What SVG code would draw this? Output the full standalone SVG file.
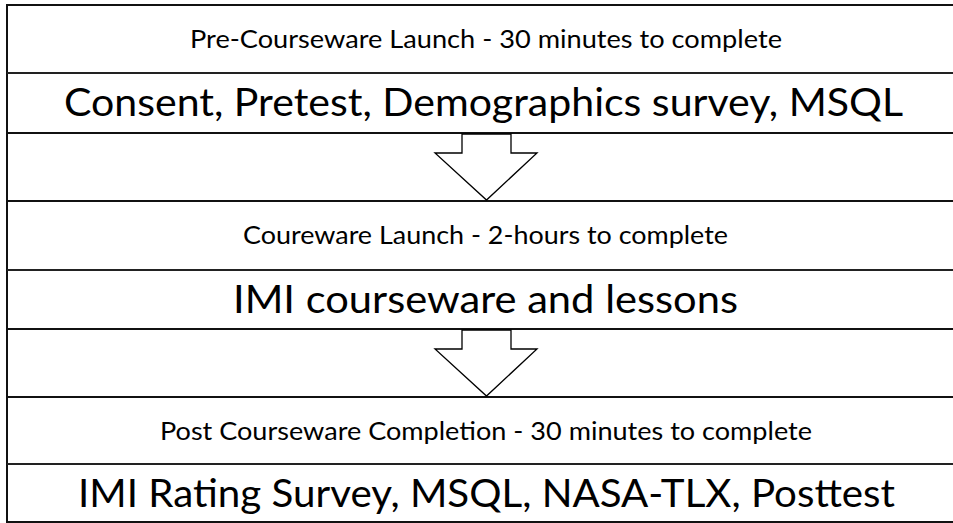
<svg xmlns="http://www.w3.org/2000/svg" width="953" height="523" viewBox="0 0 953 523">
  <style>
    .box { fill: #ffffff; stroke: #111111; stroke-width: 2; }
    .sep { stroke: #222222; stroke-width: 2; }
    .edge { stroke: #111111; stroke-width: 2; fill: none; }
    .arrow { fill: #ffffff; stroke: #000000; stroke-width: 1.3; stroke-linejoin: miter; }
    .hdr { font-family: Lato, "Liberation Sans", sans-serif; font-size: 25px; fill: #000000; }
    .big { font-family: Lato, "Liberation Sans", sans-serif; font-size: 39px; fill: #000000; }
  </style>
  <rect x="0" y="0" width="953" height="523" fill="#ffffff"/>
  <line class="edge" x1="7" y1="4" x2="7" y2="522"/>

  <g id="stage1">
    <rect class="box" x="7" y="5" width="960" height="128"/>
    <line class="sep" x1="7" y1="73" x2="960" y2="73"/>
    <text class="hdr" x="190" y="48" textLength="592" lengthAdjust="spacingAndGlyphs">Pre-Courseware Launch - 30 minutes to complete</text>
    <text class="big" x="64" y="116" textLength="839" lengthAdjust="spacingAndGlyphs">Consent, Pretest, Demographics survey, MSQL</text>
  </g>

  <g id="stage2">
    <rect class="box" x="7" y="201" width="960" height="128"/>
    <line class="sep" x1="7" y1="270" x2="960" y2="270"/>
    <text class="hdr" x="243" y="244" textLength="485" lengthAdjust="spacingAndGlyphs">Coureware Launch - 2-hours to complete</text>
    <text class="big" x="233" y="313" textLength="505" lengthAdjust="spacingAndGlyphs">IMI courseware and lessons</text>
  </g>

  <g id="stage3">
    <rect class="box" x="7" y="397" width="960" height="125"/>
    <line class="sep" x1="7" y1="464" x2="960" y2="464"/>
    <text class="hdr" x="160" y="440" textLength="652" lengthAdjust="spacingAndGlyphs">Post Courseware Completion - 30 minutes to complete</text>
    <text class="big" x="78" y="507" textLength="817" lengthAdjust="spacingAndGlyphs">IMI Rating Survey, MSQL, NASA-TLX, Posttest</text>
  </g>

  <g id="connectors">
    <polygon class="arrow" points="462,134 511,134 511,153 537,153 486.5,200 435,153 462,153"/>
    <polygon class="arrow" points="462,330 511,330 511,349 537,349 486.5,396 435,349 462,349"/>
  </g>
</svg>
